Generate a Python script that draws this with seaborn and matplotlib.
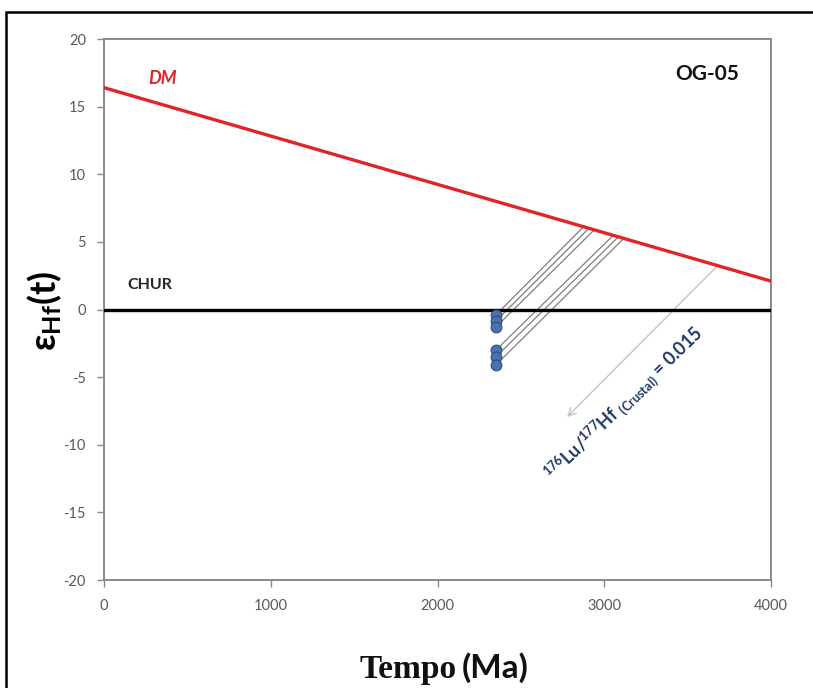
import numpy as np
import pandas as pd
import matplotlib
matplotlib.use('Agg')
import matplotlib.pyplot as plt
import matplotlib.patches as mpatches
import seaborn as sns

# depleted mantle and CHUR reference lines
dm_age = [0, 4000]
dm_eps = [16.4, 2.1]
chur_age = [0, 4000]
chur_eps = [0, 0]

# zircon analyses OG-05 (crystallisation age, eHf(t)) and their model ages
sample_age = [2350, 2350, 2350, 2350, 2350, 2350]
sample_eps = [-0.4, -0.85, -1.3, -3.0, -3.5, -4.1]
tdm_age = [2876, 2908, 2940, 3054, 3085, 3117]

# crustal evolution arrow (176Lu/177Hf = 0.015)
arrow_age = [3680, 2765]

sns.set_style('white')
plt.rcParams['font.family'] = ['Lato', 'DejaVu Sans']
plt.rcParams['axes.unicode_minus'] = False
plt.rcParams['mathtext.fontset'] = 'custom'
plt.rcParams['mathtext.rm'] = 'Lato'
plt.rcParams['mathtext.bf'] = 'Lato:bold'
plt.rcParams['mathtext.it'] = 'Lato:italic'

fig = plt.figure(figsize=(8.13, 6.88), dpi=100)
ax = fig.add_axes([104/813, 1-580/688, (771-104)/813, (580-39)/688])

dm = pd.DataFrame({'age': dm_age, 'eps': dm_eps})
chur = pd.DataFrame({'age': chur_age, 'eps': chur_eps})
pts = pd.DataFrame({'age': sample_age, 'eps': sample_eps})

# evolution lines from each analysis up to the DM curve
for a, e, t in zip(sample_age, sample_eps, tdm_age):
    ax.plot([a, t], [e, np.interp(t, dm_age, dm_eps)], color='#7f7f7f', lw=0.9, zorder=2)

sns.lineplot(data=chur, x='age', y='eps', color='black', lw=2.4, ax=ax, zorder=3)
sns.lineplot(data=dm, x='age', y='eps', color='#e1232a', lw=2.4, ax=ax, zorder=3)
sns.scatterplot(data=pts, x='age', y='eps', s=60, color='#4a72b0', edgecolor='#2f4f80',
                linewidth=0.8, ax=ax, zorder=4)

# arrow with same slope as the crustal lines
slope = (np.interp(tdm_age[0], dm_age, dm_eps) - sample_eps[0]) / (tdm_age[0] - sample_age[0])
a0 = np.interp(arrow_age[0], dm_age, dm_eps)
a1 = a0 - slope * (arrow_age[0] - arrow_age[1])
ax.annotate('', xy=(arrow_age[1], a1), xytext=(arrow_age[0], a0),
            arrowprops=dict(arrowstyle='->', color='#c4c4c4', lw=1.0, mutation_scale=14), zorder=2)

ax.text(3120, -7.0, r'$^{\mathbf{176}}$Lu/$^{\mathbf{177}}$Hf $_{\mathbf{(Crustal)}}$ = 0.015',
        rotation=44, ha='center', va='center', color='#1f3864', fontsize=13, fontweight='bold',
        rotation_mode='anchor')

ax.text(350, 17.1, 'DM', color='#e1232a', fontsize=13, fontweight='bold', style='italic',
        ha='center', va='center')
ax.text(276, 1.8, 'CHUR', color='#262626', fontsize=11.5, fontweight='bold', ha='center', va='center')
ax.text(3619, 17.4, 'OG-05', color='#111111', fontsize=15, fontweight='bold', ha='center', va='center')

ax.set_xlim(0, 4000)
ax.set_ylim(-20, 20)
ax.set_xticks(np.arange(0, 4001, 1000))
ax.set_yticks(np.arange(-20, 21, 5))
ax.set_xlabel('')
ax.set_ylabel('')
ax.tick_params(axis='both', direction='out', length=5, width=1, color='#898989',
               labelcolor='#595959', labelsize=10.5)
ax.tick_params(axis='x', pad=9, bottom=True)
ax.tick_params(axis='y', pad=8, left=True)
for sp in ax.spines.values():
    sp.set_color('#898989')
    sp.set_linewidth(1.4)

fig.text(45/813, 1-311/688, r'ε$_{\mathbf{Hf}}$(t)', rotation=90, fontsize=26, fontweight='bold',
         ha='center', va='center', color='black', family=['Lato', 'DejaVu Sans'])
fig.text(457/813, 1-678/688, 'Tempo', family=['Liberation Serif'], fontsize=24, fontweight='bold',
         ha='right', va='baseline', color='#111111')
fig.text(462/813, 1-678/688, '(Ma)', fontsize=24, fontweight='bold',
         ha='left', va='baseline', color='#111111')

# outer frame of the original figure
fig.patches.append(mpatches.Rectangle((6/813, -0.1), 1.1, 1.1 - 12/688, transform=fig.transFigure,
                                      fill=False, edgecolor='black', lw=1.8))

fig.savefig('out.png', dpi=100)
